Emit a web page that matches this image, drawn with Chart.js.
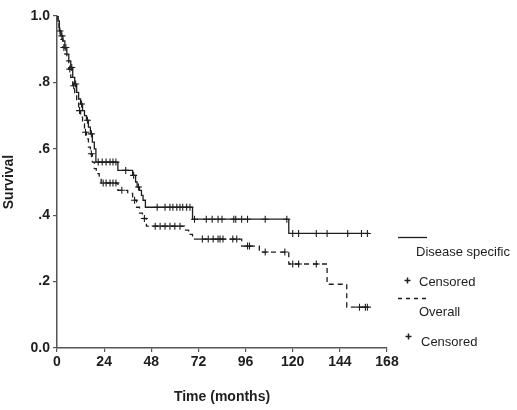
<!DOCTYPE html>
<html>
<head>
<meta charset="utf-8">
<script src="https://cdn.jsdelivr.net/npm/chart.js@4.4.1/dist/chart.umd.min.js"></script>
<style>
    body { margin: 0; background: #fff; }
    #wrap { width: 517px; height: 410px; }
</style>
</head>
<body>
<div id="wrap"><canvas id="grafico" width="517" height="410"></canvas></div>
<script>
// Disease specific: event times (months) and survival after each step
const dsTimes = [0, 0.5, 1.2, 2, 3, 4, 5, 6, 7, 8, 9, 10, 11, 12, 13, 14, 15, 16, 17, 18, 19, 19.8,
    31, 38.5, 40, 40.8, 42, 43, 43.8, 45, 69, 118];
const dsSurv = [1.0, 0.985, 0.955, 0.94, 0.925, 0.905, 0.885, 0.865, 0.845, 0.815, 0.795, 0.77, 0.75,
    0.735, 0.715, 0.70, 0.686, 0.665, 0.645, 0.62, 0.60, 0.56,
    0.535, 0.52, 0.50, 0.485, 0.475, 0.46, 0.445, 0.424, 0.388, 0.345];
const dsEnd = 159;
const dsCensored = [2.5, 4.5, 7.5, 9.5, 12.5, 15.5, 17.5, 21, 23, 25, 27, 28.5, 30, 35, 39, 41.5,
    51, 55, 57.5, 59, 61, 62.6, 64, 66, 67.7, 70, 76, 79, 82, 84, 90, 91, 94, 97, 106, 117,
    120, 123, 132, 137.5, 148, 155, 158];

// Overall: event times (months) and survival after each step
const ovTimes = [0, 0.5, 1, 2, 3, 4, 5, 6, 7, 8, 9, 10, 11, 12, 13, 14, 15, 16, 17, 18, 19, 20, 21.5,
    22.5, 31, 36, 38.5, 40.5, 42, 43.5, 45.5, 65, 67, 69, 94, 103, 118, 137.5, 147.5];
const ovSurv = [1.0, 0.98, 0.955, 0.93, 0.905, 0.885, 0.865, 0.84, 0.815, 0.79, 0.765, 0.74, 0.715,
    0.695, 0.675, 0.65, 0.63, 0.605, 0.585, 0.56, 0.54, 0.525, 0.51,
    0.497, 0.475, 0.466, 0.445, 0.424, 0.406, 0.39, 0.367, 0.355, 0.342, 0.328, 0.307, 0.289, 0.253, 0.192, 0.123];
const ovEnd = 158;
const ovCensored = [1.5, 3.5, 6.5, 8.5, 11.5, 14.5, 17.5, 23.5, 25, 27, 28.5, 30, 33, 39.5, 44.5,
    50, 52.5, 55, 57.5, 60, 62.6, 74, 77, 79.5, 82, 83, 84.5, 89.5, 91.5, 97, 98, 106, 116,
    120, 123, 132, 154, 157, 158];

// Axis ticks
const xTicks = [0, 24, 48, 72, 96, 120, 144, 168];
const yTicks = [0, 0.2, 0.4, 0.6, 0.8, 1.0];
const yLabels = ['0.0', '.2', '.4', '.6', '.8', '1.0'];

const cor = '#1e1e1e';
const corEixo = '#555';
const fonte = '"Liberation Sans", Arial, sans-serif';

// Helpers
function buildCurve(times, surv, end) {
    const pts = times.map((t, i) => ({ x: t, y: surv[i] }));
    pts.push({ x: end, y: surv[surv.length - 1] });
    return pts;
}

function survAt(times, surv, t) {
    let v = surv[0];
    times.forEach((tt, i) => {
        if (tt <= t) v = surv[i];
    });
    return v;
}

function buildCensored(times, surv, cens) {
    return cens.map(t => ({ x: t, y: survAt(times, surv, t) }));
}

// Legend drawn at the right side
const legenda = {
    id: 'legenda',
    afterDraw(chart) {
        const ctx = chart.ctx;
        ctx.save();
        ctx.strokeStyle = cor;
        ctx.lineWidth = 1.3;

        ctx.beginPath();
        ctx.moveTo(398, 237.5);
        ctx.lineTo(427, 237.5);
        ctx.stroke();

        ctx.setLineDash([4, 4]);
        ctx.beginPath();
        ctx.moveTo(398, 298.5);
        ctx.lineTo(430, 298.5);
        ctx.stroke();
        ctx.setLineDash([]);

        const plus = (x, y) => {
            ctx.beginPath();
            ctx.moveTo(x - 3, y);
            ctx.lineTo(x + 3, y);
            ctx.moveTo(x, y - 3);
            ctx.lineTo(x, y + 3);
            ctx.stroke();
        };
        ctx.lineWidth = 1.5;
        plus(407.5, 280.5);
        plus(408.5, 336.5);

        ctx.fillStyle = cor;
        ctx.font = '13px ' + fonte;
        ctx.textBaseline = 'middle';
        ctx.textAlign = 'left';
        ctx.fillText('Disease specific', 416, 252);
        ctx.fillText('Censored', 419, 282);
        ctx.fillText('Overall', 419, 312);
        ctx.fillText('Censored', 421, 342);
        ctx.restore();
    }
};

const ctxGrafico = document.getElementById('grafico').getContext('2d');

new Chart(ctxGrafico, {
    type: 'line',
    data: {
        datasets: [
            {
                label: 'Disease specific',
                data: buildCurve(dsTimes, dsSurv, dsEnd),
                stepped: true,
                borderColor: cor,
                borderWidth: 1.3,
                pointRadius: 0,
                fill: false
            },
            {
                label: 'Overall',
                data: buildCurve(ovTimes, ovSurv, ovEnd),
                stepped: true,
                borderColor: cor,
                borderWidth: 1.3,
                borderDash: [5, 4],
                pointRadius: 0,
                fill: false
            },
            {
                label: 'Censored',
                data: buildCensored(dsTimes, dsSurv, dsCensored),
                showLine: false,
                pointStyle: 'cross',
                pointRadius: 3.5,
                borderColor: cor,
                borderWidth: 1.1
            },
            {
                label: 'Censored',
                data: buildCensored(ovTimes, ovSurv, ovCensored),
                showLine: false,
                pointStyle: 'cross',
                pointRadius: 3.5,
                borderColor: cor,
                borderWidth: 1.1
            }
        ]
    },
    options: {
        responsive: false,
        animation: false,
        layout: {
            padding: { left: 0, right: 130, top: 16, bottom: 0 }
        },
        plugins: {
            legend: { display: false },
            tooltip: { enabled: false }
        },
        scales: {
            x: {
                type: 'linear',
                min: 0,
                max: 168,
                afterBuildTicks: scale => {
                    scale.ticks = xTicks.map(v => ({ value: v }));
                },
                afterFit: scale => {
                    scale.height = 62;
                },
                ticks: {
                    color: cor,
                    font: { family: fonte, size: 14, weight: 'bold' },
                    padding: 2,
                    maxRotation: 0
                },
                grid: {
                    drawOnChartArea: false,
                    drawTicks: true,
                    tickLength: 4,
                    color: corEixo,
                    lineWidth: 1.2
                },
                border: { display: true, color: corEixo, width: 1.5 },
                title: {
                    display: true,
                    text: 'Time (months)',
                    color: cor,
                    font: { family: fonte, size: 14, weight: 'bold' },
                    padding: { top: 4, bottom: 4 }
                }
            },
            y: {
                min: 0,
                max: 1,
                afterBuildTicks: scale => {
                    scale.ticks = yTicks.map(v => ({ value: v }));
                },
                afterFit: scale => {
                    scale.width = 57;
                },
                ticks: {
                    color: cor,
                    font: { family: fonte, size: 14, weight: 'bold' },
                    padding: 3,
                    callback: (v, i) => yLabels[i]
                },
                grid: {
                    drawOnChartArea: false,
                    drawTicks: true,
                    tickLength: 4,
                    color: corEixo,
                    lineWidth: 1.2
                },
                border: { display: true, color: corEixo, width: 1.5 },
                title: {
                    display: true,
                    text: 'Survival',
                    color: cor,
                    font: { family: fonte, size: 14, weight: 'bold' },
                    padding: { top: 1, bottom: 0 }
                }
            }
        }
    },
    plugins: [legenda]
});
</script>
</body>
</html>
